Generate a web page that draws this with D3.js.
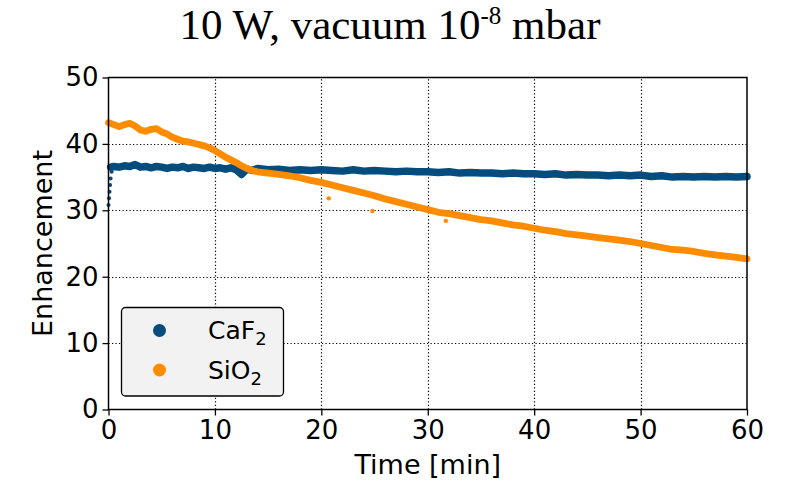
<!DOCTYPE html>
<html>
<head>
<meta charset="utf-8">
<script src="https://cdn.jsdelivr.net/npm/d3@7"></script>
<style>
  body { margin: 0; background: #fff; }
  text { font-family: "DejaVu Sans", sans-serif; }
</style>
</head>
<body>
<svg id="chart" width="789" height="481"></svg>
<script>
// ---- data ----
var xTicks = [0, 10, 20, 30, 40, 50, 60];
var yTicks = [0, 10, 20, 30, 40, 50];

// CaF2: the first few points climb at t = 0, then the flat band
var caf2Start = [[0, 30.8], [0.05, 31.8], [0.1, 32.8], [0.15, 33.8], [0.2, 34.8], [0.3, 35.8]];
var caf2 = [[0.2, 36.5], [0.5, 36.6], [1, 36.5], [1.5, 36.7], [2, 36.6], [2.5, 36.9], [3, 36.5], [3.5, 36.6],
  [4, 36.4], [4.5, 36.6], [5, 36.5], [5.5, 36.3], [6, 36.5], [6.5, 36.4], [7, 36.6], [7.5, 36.3],
  [8, 36.5], [8.5, 36.4], [9, 36.3], [9.5, 36.5], [10, 36.3], [10.5, 36.4], [11, 36.2], [11.5, 36.4],
  [12, 36.1], [12.5, 35.4], [13, 36.2], [13.5, 36.0], [14, 36.3], [15, 36.1], [16, 36.2], [17, 36.0],
  [18, 36.1], [19, 36.0], [20, 36.1], [21, 36.0], [22, 35.9], [23, 36.1], [24, 35.9], [25, 36.0],
  [26, 35.9], [27, 35.8], [28, 35.9], [29, 35.8], [30, 35.8], [31, 35.7], [32, 35.8], [33, 35.6],
  [34, 35.7], [35, 35.6], [36, 35.6], [37, 35.5], [38, 35.6], [39, 35.5], [40, 35.5], [41, 35.4],
  [42, 35.5], [43, 35.3], [44, 35.4], [45, 35.3], [46, 35.3], [47, 35.2], [48, 35.3], [49, 35.2],
  [50, 35.3], [51, 35.1], [52, 35.2], [53, 35.0], [54, 35.1], [55, 35.0], [56, 35.1], [57, 35.0],
  [58, 35.1], [59, 35.0], [60, 35.1]];

var sio2 = [[0, 43.2], [0.5, 42.9], [1, 42.6], [1.5, 42.9], [2, 43.1], [2.5, 42.7], [3, 42.1],
  [3.5, 41.9], [4, 42.2], [4.5, 42.3], [5, 41.8], [5.5, 41.5], [6, 41.0], [6.5, 40.7], [7, 40.4],
  [7.5, 40.3], [8, 40.1], [8.5, 39.9], [9, 39.7], [9.5, 39.4], [10, 39.0], [10.5, 38.5], [11, 38.0],
  [11.5, 37.6], [12, 37.2], [12.5, 36.7], [13, 36.3], [13.5, 36.0], [14, 35.8], [15, 35.6], [16, 35.4],
  [17, 35.2], [18, 34.9], [19, 34.5], [20, 34.2], [21, 33.8], [22, 33.4], [23, 33.0], [24, 32.6],
  [25, 32.2], [26, 31.7], [27, 31.3], [28, 30.9], [29, 30.5], [30, 30.1], [31, 29.7], [32, 29.5],
  [33, 29.2], [34, 28.9], [35, 28.6], [36, 28.4], [37, 28.1], [38, 27.8], [39, 27.6], [40, 27.3],
  [41, 27.0], [42, 26.8], [43, 26.5], [44, 26.3], [45, 26.1], [46, 25.9], [47, 25.7], [48, 25.5],
  [49, 25.3], [50, 25.0], [51, 24.7], [52, 24.4], [53, 24.1], [54, 24.0], [55, 23.8], [56, 23.5],
  [57, 23.3], [58, 23.1], [59, 22.9], [60, 22.7]];
var sio2Outliers = [[20.7, 31.8], [24.8, 29.9], [31.7, 28.4]];

var blue = '#024c7e';
var orange = '#ff8c00';

// ---- layout ----
var svg = d3.select('#chart');
var margin = { top: 77.5, right: 42, bottom: 71.5, left: 108.5 };
var width = 789, height = 481;

var x = d3.scaleLinear().domain([0, 60]).range([margin.left, width - margin.right]);
var y = d3.scaleLinear().domain([0, 50]).range([height - margin.bottom, margin.top]);
function px(v) { return Math.round(v) + 0.5; }

// grid
var grid = svg.append('g');
grid.selectAll('line.gx').data(xTicks.slice(1, -1)).enter().append('line')
  .attr('x1', function(d) { return px(x(d)); }).attr('x2', function(d) { return px(x(d)); })
  .attr('y1', y(0)).attr('y2', y(50));
grid.selectAll('line.gy').data(yTicks.slice(1, -1)).enter().append('line')
  .attr('y1', function(d) { return px(y(d)); }).attr('y2', function(d) { return px(y(d)); })
  .attr('x1', x(0)).attr('x2', x(60));
grid.selectAll('line')
  .attr('stroke', '#000').attr('stroke-width', 1.2).attr('stroke-dasharray', '1.2,2.3');

// data
var line = d3.line().x(function(d) { return x(d[0]); }).y(function(d) { return y(d[1]); });
var data = svg.append('g');

function band(pts, color, w) {
  data.append('path').datum(pts).attr('d', line)
    .attr('fill', 'none').attr('stroke', color).attr('stroke-width', w)
    .attr('stroke-linejoin', 'round').attr('stroke-linecap', 'round');
}
function dots(pts, color, r) {
  data.selectAll(null).data(pts).enter().append('circle')
    .attr('cx', function(d) { return x(d[0]); })
    .attr('cy', function(d) { return y(d[1]); })
    .attr('r', r).attr('fill', color);
}
band(caf2, blue, 7.5);
dots(caf2Start, blue, 2);
band(sio2, orange, 6.8);
dots(sio2Outliers, orange, 2.2);

// axes
var xAxis = d3.axisBottom(x).tickValues(xTicks).tickSize(6).tickPadding(5).tickFormat(d3.format('d'));
var yAxis = d3.axisLeft(y).tickValues(yTicks).tickSize(6).tickPadding(4).tickFormat(d3.format('d'));

var gx = svg.append('g').attr('transform', 'translate(0,' + y(0) + ')').call(xAxis);
var gy = svg.append('g').attr('transform', 'translate(' + x(0) + ',0)').call(yAxis);
[gx, gy].forEach(function(g) {
  g.select('.domain').remove();
  g.selectAll('line').attr('stroke', '#000').attr('stroke-width', 1.3);
  g.selectAll('text').attr('font-size', 26).attr('fill', '#000')
    .style('font-family', '"DejaVu Sans", sans-serif');
});

// frame
svg.append('rect')
  .attr('x', x(0)).attr('y', y(50))
  .attr('width', x(60) - x(0)).attr('height', y(0) - y(50))
  .attr('fill', 'none').attr('stroke', '#000').attr('stroke-width', 1.5);

// axis labels
svg.append('text').attr('x', x(30)).attr('y', 474)
  .attr('text-anchor', 'middle').attr('font-size', 27).text('Time [min]');
svg.append('text')
  .attr('transform', 'translate(52,' + y(25) + ') rotate(-90)')
  .attr('text-anchor', 'middle').attr('font-size', 27).text('Enhancement');

// title
var title = svg.append('text').attr('x', 390).attr('y', 39)
  .attr('text-anchor', 'middle')
  .style('font-family', '"Liberation Serif", "Times New Roman", serif')
  .attr('font-size', 43);
title.append('tspan').text('10 W, vacuum 10');
title.append('tspan').attr('dy', -15).attr('font-size', 25).text('-8');
title.append('tspan').attr('dy', 15).text(' mbar');

// legend
var legendNames = [['CaF', '2', blue], ['SiO', '2', orange]];
var lg = svg.append('g');
lg.append('rect').attr('x', 121.5).attr('y', 307.5).attr('width', 162).attr('height', 88.5)
  .attr('rx', 4).attr('fill', '#f2f2f2').attr('stroke', '#000').attr('stroke-width', 1.3);
legendNames.forEach(function(d, i) {
  var cy = 330.5 + i * 39.5;
  lg.append('circle').attr('cx', 159.5).attr('cy', cy).attr('r', 6.5).attr('fill', d[2]);
  var t = lg.append('text').attr('x', 208).attr('y', cy + 8.5).attr('font-size', 25);
  t.append('tspan').text(d[0]);
  t.append('tspan').attr('dy', 6).attr('font-size', 18).text(d[1]);
});
</script>
</body>
</html>
